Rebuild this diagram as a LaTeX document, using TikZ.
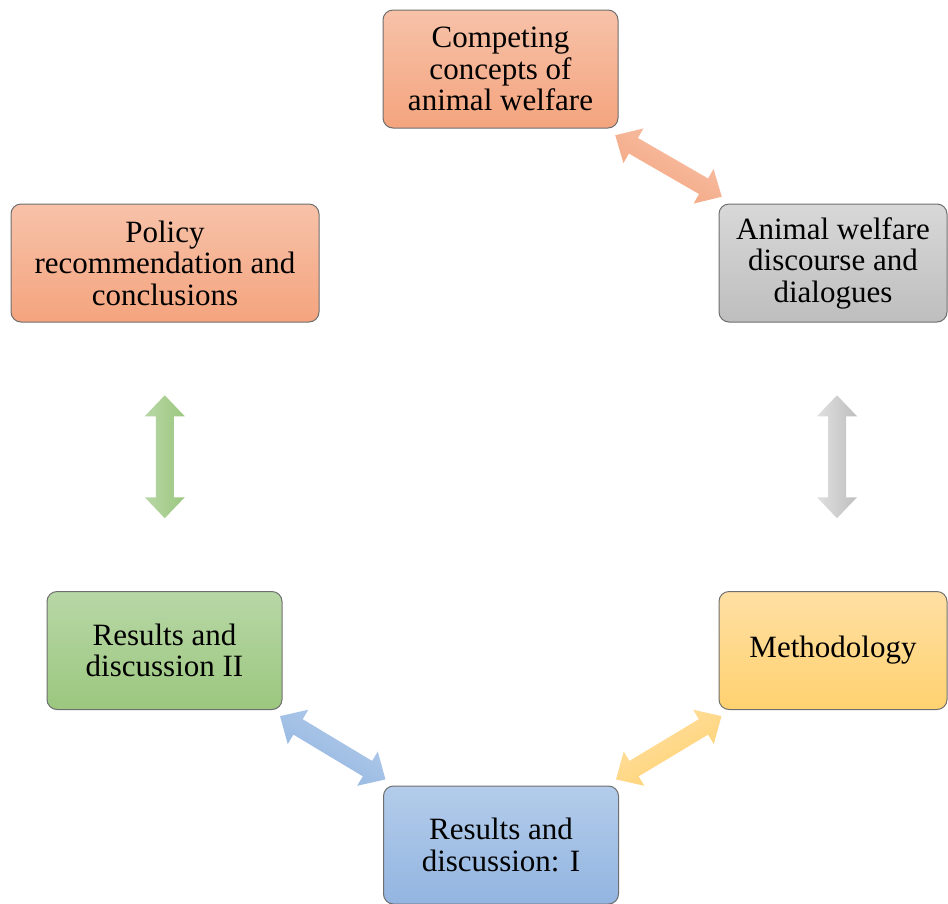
\documentclass[tikz,border=0pt]{standalone}
\usepackage{fontspec}
\setmainfont{Liberation Serif}
\usetikzlibrary{calc}

% stage fills (top / bottom of the vertical gradient)
\definecolor{orTop}{HTML}{F7C2A9}
\definecolor{orBot}{HTML}{F4A47E}
\definecolor{grTop}{HTML}{D8D8D8}
\definecolor{grBot}{HTML}{BEBEBE}
\definecolor{gnTop}{HTML}{B8D7A6}
\definecolor{gnBot}{HTML}{9BC77F}
\definecolor{ylTop}{HTML}{FFDFA3}
\definecolor{ylBot}{HTML}{FFD270}
\definecolor{blTop}{HTML}{B3CCEA}
\definecolor{blBot}{HTML}{93B5E1}
\definecolor{boxedge}{HTML}{6E6E6E}

% double-headed block arrow centred at #1, turned by #2 degrees
\newcommand{\linkarrow}[4]{%
  \begin{scope}[shift={#1}, rotate=#2]
    \shade[top color=#3, bottom color=#4, shading angle=#2]
      (-61.5,0) -- (-40.5,20) -- (-40.5,9) -- (40.5,9) -- (40.5,20)
      -- (61.5,0) -- (40.5,-20) -- (40.5,-9) -- (-40.5,-9) -- (-40.5,-20) -- cycle;
  \end{scope}}

\begin{document}
\begin{tikzpicture}[x=1pt,y=1pt,
  stage/.style={draw=boxedge, line width=1pt, rounded corners=10pt,
    minimum height=118pt, minimum width=235pt, inner sep=0pt,
    align=center, font=\fontsize{31}{31.5}\selectfont, text=black},
]
\useasboundingbox (0,-903) rectangle (948,0);

\node[stage, top color=orTop, bottom color=orBot] (concepts) at (500.5,-69)
  {Competing\\concepts of\\animal welfare};
\node[stage, minimum width=228pt, top color=grTop, bottom color=grBot] (discourse) at (833,-263)
  {Animal welfare\\discourse and\\dialogues};
\node[stage, minimum width=308pt, top color=orTop, bottom color=orBot] (policy) at (165,-263)
  {Policy\\recommendation and\\conclusions};
\node[stage, top color=gnTop, bottom color=gnBot] (results2) at (164.5,-650.5)
  {Results and\\discussion II};
\node[stage, minimum width=228pt, top color=ylTop, bottom color=ylBot] (method) at (833,-650.5)
  {Methodology};
\node[stage, top color=blTop, bottom color=blBot] (results1) at (501,-845)
  {Results and\\discussion: I};

% links between neighbouring stages
\linkarrow{($(concepts.south east)!0.5!(discourse.north west)$)}{-30}{orTop}{orBot}
\linkarrow{($(discourse.south)!0.5!(method.north)+(4,0)$)}{90}{grTop!80!white}{grBot}
\linkarrow{($(method.south west)!0.5!(results1.north east)$)}{31}{ylTop}{ylBot}
\linkarrow{($(results1.north west)!0.5!(results2.south east)$)}{-31}{blTop}{blBot}
\linkarrow{($(results2.north)!0.5!(policy.south)$)}{90}{gnTop}{gnBot}
\end{tikzpicture}
\end{document}
